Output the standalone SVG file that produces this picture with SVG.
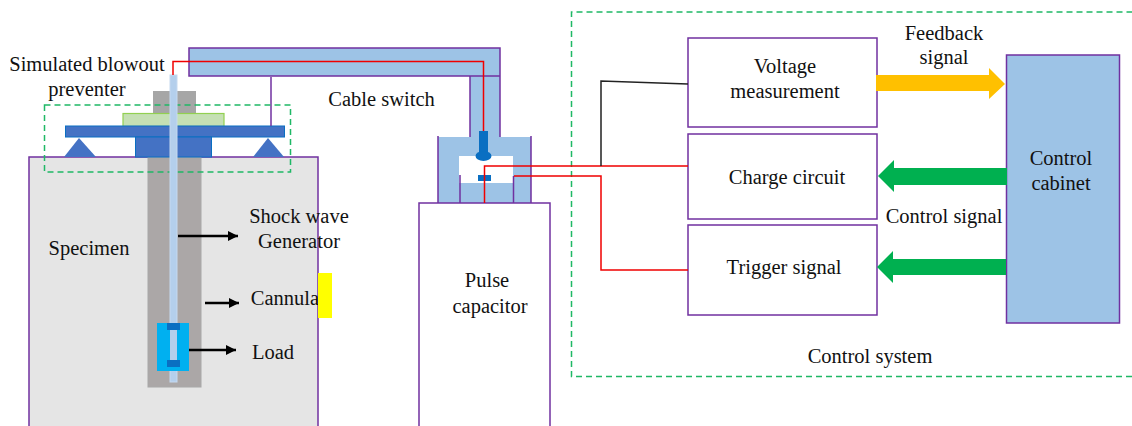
<svg xmlns="http://www.w3.org/2000/svg" width="1132" height="426" viewBox="0 0 1132 426">
<defs>
<marker id="ah" markerUnits="userSpaceOnUse" markerWidth="11" markerHeight="10" refX="10" refY="5" orient="auto"><path d="M0,0 L10,5 L0,10 Z" fill="#000"/></marker>
</defs>
<style>
text{font-family:"Liberation Serif","Times New Roman",serif;font-size:20.500px;fill:#111;text-anchor:middle}
.box{fill:#fff;stroke:#7030a0;stroke-width:1.5}
.blue{fill:#9dc3e6}
.pl{fill:none;stroke:#7030a0;stroke-width:1.5}
.dash{fill:none;stroke:#1fb866;stroke-width:1.5;stroke-dasharray:6 4}
.red{fill:none;stroke:#f00000;stroke-width:1.5}
.dk{fill:#4472c4;stroke:#0a6fc2;stroke-width:1}
.ar{stroke:#000;stroke-width:2.6;fill:none;marker-end:url(#ah)}
</style>
<g id="specimen">
<rect x="29" y="157" width="289" height="280" fill="#e5e5e5" stroke="#7030a0" stroke-width="1.5"/>
<text x="89" y="255">Specimen</text>
</g>
<g id="generator">
<rect x="148" y="157" width="53" height="230" fill="#aba7a7" stroke="#a8a8a8"/>
<rect x="153" y="91" width="43" height="24" fill="#a6a6a6"/>
<text x="299" y="223">Shock wave</text>
<text x="299" y="248">Generator</text>
</g>
<g id="preventer">
<rect x="123" y="113.500" width="101" height="13" fill="#c5e0b4" stroke="#92d050" stroke-width="1.200"/>
<rect x="65.500" y="126" width="219" height="11" class="dk"/>
<rect x="135.500" y="137" width="76" height="20" class="dk"/>
<path d="M64,157 L79,138 L96,157 Z" fill="#4472c4"/>
<path d="M253,157 L268,138 L284,157 Z" fill="#4472c4"/>
<path d="M271,77 V126" class="pl"/>
<rect x="44.500" y="105" width="246" height="67" class="dash"/>
<text x="87" y="71">Simulated blowout</text>
<text x="87" y="96">preventer</text>
</g>
<g id="cannula">
<rect x="170" y="75" width="7" height="307" fill="#b4cfec" stroke="#c6d9f0"/>
<rect x="157" y="323" width="32" height="48" fill="#00b0f0"/>
<rect x="170" y="330" width="7" height="30" fill="#b4cfec"/>
<rect x="167" y="323" width="13" height="7" fill="#0a6fc2"/>
<rect x="167" y="360" width="13" height="7" fill="#0a6fc2"/>
<text x="285" y="305">Cannula</text>
<text x="273" y="359">Load</text>
</g>
<rect id="marker" x="318" y="273" width="14" height="45" fill="#ffff00"/>
<g id="cable-switch">
<path d="M189,48 H500 V137 H531 V203 H438 V137 H470 V76 H189 Z" class="blue"/>
<path d="M189,48 H500 V76 H189 Z M470,76 V137 M500,76 V137 M438,136 V203 M531,136 V203" class="pl"/>
<rect x="459" y="156" width="54" height="27" fill="#fff"/>
<path d="M460,175 V203 M513.500,176 V203" class="pl"/>
<rect x="479" y="131" width="9" height="23" fill="#0a6fc2"/>
<ellipse cx="483.500" cy="156" rx="8" ry="5" fill="#0a6fc2"/>
<rect x="478" y="175" width="13" height="6" fill="#0a6fc2"/>
<text x="381.500" y="106">Cable switch</text>
</g>
<g id="capacitor">
<rect x="419" y="203" width="131" height="240" class="box"/>
<text x="487" y="287">Pulse</text>
<text x="490" y="313">capacitor</text>
</g>
<g id="control-system">
<path d="M1132,376.500 H571.500 V12 H1132" class="dash"/>
<text x="870" y="363">Control system</text>
</g>
<g id="voltage"><rect x="688" y="38" width="189" height="89" class="box"/><text x="785" y="73">Voltage</text><text x="785" y="98">measurement</text></g>
<g id="charge"><rect x="688" y="134" width="189" height="85" class="box"/><text x="787" y="184">Charge circuit</text></g>
<g id="trigger"><rect x="688" y="225" width="189" height="90" class="box"/><text x="784" y="274">Trigger signal</text></g>
<g id="cabinet"><rect x="1006.500" y="55" width="113" height="268" fill="#9dc3e6" stroke="#7030a0" stroke-width="1.500"/><text x="1061" y="165">Control</text><text x="1061" y="190">cabinet</text></g>
<g id="connectors">
<path d="M173,75 V61.500 H483.500 V131" class="red"/>
<path d="M484.500,203 V166 H688" class="red"/>
<path d="M514,176 H601 V270 H688" class="red"/>
<path d="M601,166 V81 L688,84" fill="none" stroke="#222" stroke-width="1.500"/>
<path class="ar" d="M178,236 H238"/>
<path class="ar" d="M205,303 H239"/>
<path class="ar" d="M189,350 H236"/>
<path d="M876,75 H989 V68 L1005,84 L989,99 V91 H876 Z" fill="#ffc000"/>
<path d="M1007,168 H894 V160 L878,176 L894,192 V185 H1007 Z" fill="#00b050"/>
<path d="M1006,259 H893 V251 L877,267 L893,283 V275 H1006 Z" fill="#00b050"/>
<text x="944" y="40">Feedback</text>
<text x="944" y="64">signal</text>
<text x="944" y="223">Control signal</text>
</g>
</svg>
